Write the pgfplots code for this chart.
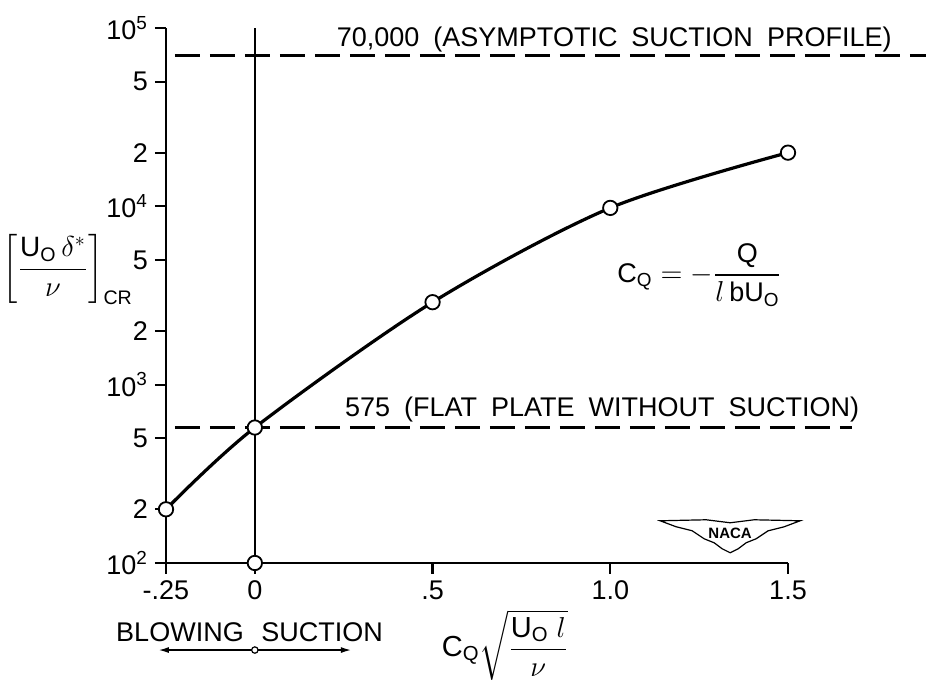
\documentclass[border=0pt]{standalone}
\usepackage{fontspec}
\setmainfont{Liberation Sans}
\usepackage{amsmath}
\usepackage{pgfplots}
\pgfplotsset{compat=1.18}
\usetikzlibrary{calc,arrows.meta}

\newcommand{\lbl}{\fontsize{13.5}{16}\selectfont}
\newcommand{\gap}{\hspace{7pt}}

\begin{document}
\begin{tikzpicture}
\begin{axis}[name=ax,
    scale only axis, width=311pt, height=267.5pt,
    ymode=log, xmin=-0.25, xmax=1.5, ymin=100, ymax=100000,
    axis lines=left, axis line style={-, line width=1.1pt},
    tick align=outside, major tick length=5.5pt,
    tick style={line width=1.1pt, black},
    xtick={-0.25,0,0.5,1,1.5},
    xticklabels={-.25,0,.5,1.0,1.5},
    ytick={100,200,500,1000,2000,5000,10000,20000,50000,100000},
    yticklabels={10\textsuperscript{2},2,5,10\textsuperscript{3},2,5,10\textsuperscript{4},2,5,10\textsuperscript{5}},
    yminorticks=false,
    ticklabel style={font=\fontsize{13.5}{15}\selectfont},
    clip=false]

% reference levels
\addplot[black, line width=1.7pt, dash pattern=on 12.5pt off 5pt] coordinates {(-0.225,70000) (1.89,70000)};
\addplot[black, line width=1.7pt, dash pattern=on 12.5pt off 5pt] coordinates {(-0.225,575) (1.68,575)};
% C_Q = 0 line
\addplot[black, line width=1.1pt] coordinates {(0,100) (0,100000)};

% measured curve
\addplot[black, line width=1.6pt, smooth, mark=*, mark size=3.6pt,
    mark options={fill=white, line width=0.9pt}]
    coordinates {(-0.25,200) (0,575) (0.5,2900) (1.0,9800) (1.5,20000)};
\addplot[only marks, mark=*, mark size=3.6pt, mark options={fill=white, draw=black, line width=0.9pt}]
    coordinates {(0,100)};

\node[anchor=base west, font=\lbl] at (axis cs:0.211,78300)
    {70,000\gap(ASYMPTOTIC\gap SUCTION\gap PROFILE)};
\node[anchor=base west, font=\lbl] at (axis cs:0.234,659)
    {575\gap(FLAT\gap PLATE\gap WITHOUT\gap SUCTION)};

\node[font=\lbl] at (rel axis cs:0.858,0.538)
    {$\text{C}_{\text{Q}} = -\dfrac{\text{Q}}{l\,\text{bU}_{\text{O}}}$};
\node[font=\fontsize{14}{17}\selectfont] at (rel axis cs:-0.158,0.548)
    {$\left[\dfrac{\text{U}_{\text{O}}\,\delta^{*}}{\nu}\right]_{\text{CR}}$};
\node[font=\fontsize{14.5}{17}\selectfont] at (rel axis cs:0.545,-0.153)
    {$\text{C}_{\text{Q}}\sqrt{\dfrac{\text{U}_{\text{O}}\; l}{\nu}}$};

% blowing / suction arrow
\node[font=\lbl] at (rel axis cs:0.0225,-0.129) {BLOWING};
\node[font=\lbl] at (rel axis cs:0.251,-0.129) {SUCTION};
\draw[line width=0.6pt, -{Latex[length=5pt,width=3pt]}] (axis cs:0,32.5) -- (axis cs:-0.27,32.5);
\draw[line width=0.6pt, -{Latex[length=5pt,width=3pt]}] (axis cs:0,32.5) -- (axis cs:0.27,32.5);
\draw[line width=0.6pt, fill=white] (axis cs:0,32.5) circle[radius=1.6pt];

\coordinate (naca) at (rel axis cs:0.907,0.049);
\end{axis}

% NACA emblem
\begin{scope}[shift={(naca)}, line width=0.6pt]
\draw (-35pt,8pt) -- (-12pt,8.5pt) -- (0pt,7pt) -- (12pt,8.5pt) -- (35pt,8pt)
   -- (27pt,5pt) -- (19pt,3pt) -- (13pt,-1pt) -- (8pt,-3pt) -- (4pt,-6pt) -- (0pt,-8pt)
   -- (-4pt,-6pt) -- (-8pt,-3pt) -- (-13pt,-1pt) -- (-19pt,3pt) -- (-27pt,5pt) -- cycle;
\node[font=\fontsize{7.5}{8}\selectfont\bfseries, inner sep=0pt] at (0pt,1.5pt) {NACA};
\end{scope}
\pgfresetboundingbox
\path ($(ax.south west)+(-83pt,-60pt)$) rectangle ($(ax.north east)+(69pt,14pt)$);
\end{tikzpicture}
\end{document}
